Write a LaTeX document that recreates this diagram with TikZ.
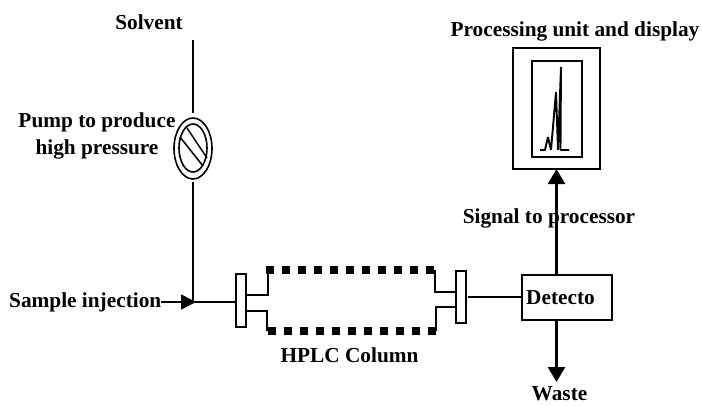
\documentclass[tikz,border=0pt]{standalone}
\usepackage{fontspec}
\setmainfont{Liberation Serif}
\usetikzlibrary{arrows.meta,shapes.geometric}
\tikzset{
  lbl/.style={font=\fontsize{21.3}{26.5}\selectfont\bfseries,inner sep=0pt,align=center},
  ln/.style={draw=black,line width=1.6pt},
  box/.style={draw=black,line width=1.6pt,fill=white,minimum width=0pt,inner sep=0pt,rectangle},
  tip/.style={-{Triangle[length=15pt,width=17pt]},line width=2.4pt},
  dots/.style={line width=8pt,dash pattern=on 8pt off 8pt},
}
\begin{document}
\begin{tikzpicture}[x=1pt,y=-1pt]
\useasboundingbox (0,0) rectangle (702,405);
% pump
\coordinate (feedtop) at (193,40);
\node[ellipse,draw,line width=1.6pt,minimum width=38pt,minimum height=61pt,inner sep=0pt] (pump) at (193,148.5) {};
\node[ellipse,draw,line width=1.6pt,minimum width=28pt,minimum height=48pt,inner sep=0pt] (pumpin) at (193,148) {};
\draw[line width=1.5pt] (180,137) -- (203,166);
\draw[line width=1.5pt] (187,128) -- (207,158);
\coordinate (tee) at (193,302);
\draw[ln] (feedtop) -- (193,113);
\draw[ln] (193,182) -- (tee);
\coordinate (samplestart) at (161,302);
\draw[line width=1.6pt,-{Triangle[length=15pt,width=15pt]}] (samplestart) -- (196,302);
% column
\node[box,minimum width=10pt,minimum height=53pt] (lf) at (241,300.5) {};
\node[box,minimum width=10pt,minimum height=52pt] (rf) at (461,297) {};
\draw[ln] (tee) -- (lf.west |- tee);
\draw[ln] (246,295) -- (268,295) -- (268,270);
\draw[ln] (246,311) -- (267,311) -- (267,331);
\draw[ln] (456,292) -- (435,292) -- (435,270);
\draw[ln] (456,307) -- (436,307) -- (436,331);
\draw[dots] (266,270) -- (437,270);
\draw[dots] (268,331) -- (437,331);
% detector
\node[box,minimum width=90pt,minimum height=45pt] (det) at (567,297.5) {};
\node[lbl,anchor=base west] (dett) at (526,304) {Detecto};
\draw[ln] (rf.east) ++(1,0) -- (rf.east -| det.west);
\coordinate (wasteend) at (556.5,382);
\draw[tip] (556.5,320) -- (wasteend);
% processor
\node[box,minimum width=87pt,minimum height=121pt] (outer) at (556.5,108.5) {};
\node[box,minimum width=50pt,minimum height=96pt,line width=1.8pt] (inner) at (557,109) {};
\draw[tip] (556.5,275) -- (556.5,169);
\draw[line width=1.9pt,line join=bevel] (540,150) -- (545,150) -- (548,137) -- (551,150) -- (556,92) -- (558,150) -- (561,67) -- (560.5,150) -- (569,150);
% labels
\node[lbl,anchor=base] (solvent) at (149,29) {Solvent};
\node[lbl,anchor=base] (pumplabel) at (97,154) {Pump to produce\\high pressure};
\node[lbl,anchor=base west] (sample) at (9,307) {Sample injection};
\node[lbl,anchor=base] (column) at (349.5,362) {HPLC Column};
\node[lbl,anchor=base] (proc) at (575,36) {Processing unit and display};
\node[lbl,anchor=base] (signal) at (549,223) {Signal to processor};
\node[lbl,anchor=base] (waste) at (559.5,400.5) {Waste};
\end{tikzpicture}
\end{document}
